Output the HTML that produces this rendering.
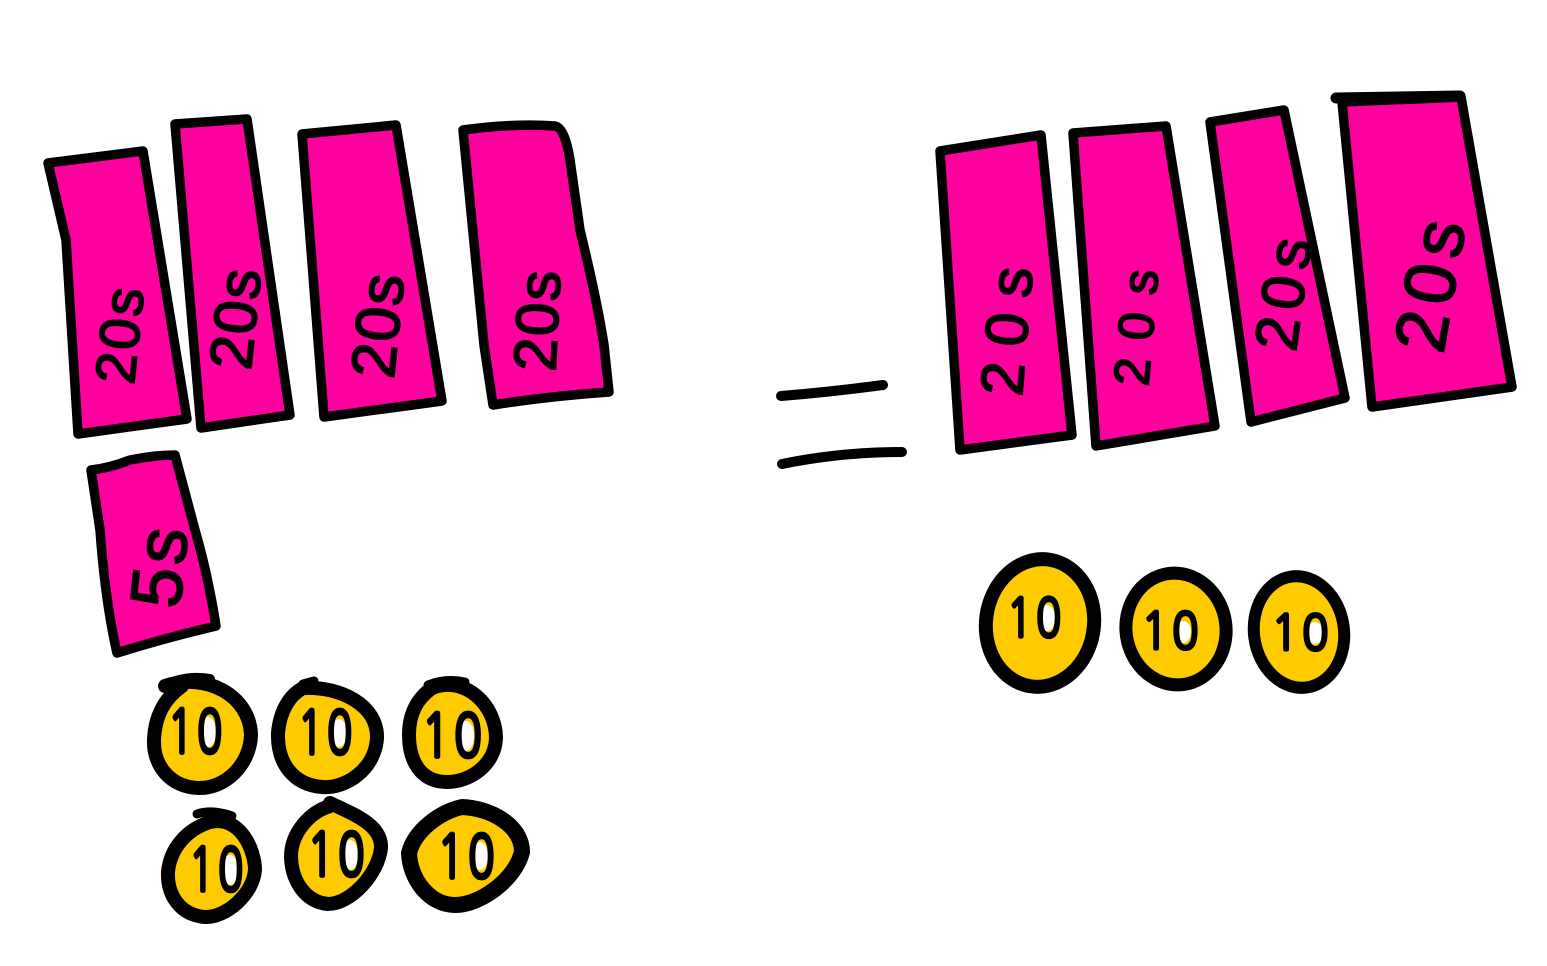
<!DOCTYPE html>
<html><head><meta charset="utf-8"><style>
html,body{margin:0;padding:0;background:#fff;width:1547px;height:966px;overflow:hidden}
svg{display:block}
.b{fill:#ff009f;stroke:#000;stroke-width:9.5;stroke-linejoin:round;stroke-linecap:round}
.c{fill:#fdcb00;stroke:#000;stroke-linejoin:round;stroke-width:14}
.l{fill:none;stroke:#000;stroke-linecap:round}
.t{font-family:"Liberation Sans",sans-serif;fill:#000;stroke:#000;stroke-width:1.8;text-anchor:middle}
.n{font-family:"NanumGothic",sans-serif;fill:#000;stroke:#000;stroke-width:2.8;text-anchor:middle;font-size:44px;letter-spacing:4px}
.h{fill:#fff;stroke:none}
</style></head><body>
<svg width="1547" height="966" viewBox="0 0 1547 966" xmlns="http://www.w3.org/2000/svg">
<rect width="1547" height="966" fill="#fff"/>
<polygon class="b" points="48,163 143,151 187,419 78,434 66,240"/>
<polygon class="b" points="175,124 247,119 290,415 201,428"/>
<polygon class="b" points="302,134 396,125 442,401 324,417"/>
<path class="b" d="M463,130 Q515,123 555,126 Q565,128 570,160 L580,230 Q597,300 604,345 L609,392 Q550,396 493,405 L484,345 Z"/>
<path class="b" d="M91,470 Q110,468 130,460 Q155,455 175,455 L195,530 Q208,575 216,626 Q165,638 117,653 Q105,600 100,530 Z"/>
<polygon class="b" points="940,151 1041,135 1072,435 960,450"/>
<polygon class="b" points="1073,133 1166,126 1215,426 1096,446"/>
<polygon class="b" points="1210,122 1284,110 1345,398 1251,422"/>
<polygon class="b" points="1342,102 1461,97 1512,387 1372,407"/>
<path class="l" d="M1336,98 L1460,96" stroke-width="11"/>
<path class="l" d="M781,396 Q830,392 883,385 M782,464 Q840,452 902,452" stroke-width="10"/>

<text class="t" font-size="56" letter-spacing="3" transform="translate(139,336) rotate(-84)">20s</text>
<text class="t" font-size="60" letter-spacing="2" transform="translate(256,320) rotate(-84)">20s</text>
<text class="t" font-size="62" letter-spacing="2" transform="translate(399,327) rotate(-84)">20s</text>
<text class="t" font-size="60" letter-spacing="2" transform="translate(558,321) rotate(-87)">20s</text>
<text class="t" font-size="72" letter-spacing="4" transform="translate(184,568) rotate(-84)">5s</text>
<text class="t" font-size="60" letter-spacing="16" transform="translate(1028,325) rotate(-85)">20s</text>
<text class="t" font-size="50" letter-spacing="18" transform="translate(1154,320) rotate(-85)">20s</text>
<text class="t" font-size="60" letter-spacing="8" transform="translate(1304,293) rotate(-82)">20s</text>
<text class="t" font-size="72" letter-spacing="8" transform="translate(1455,286) rotate(-80)">20s</text>

<path class="c" d="M165,686 C205,672 250,695 251,735 C250,765 225,789 198,788 C170,787 153,765 154,740 C155,715 165,698 182,686Z"/>
<path class="l" d="M164,686 Q185,675 210,679" stroke-width="10"/>
<path class="c" d="M303,688 C340,686 378,705 377,738 C375,770 345,789 322,787 C295,785 277,765 278,733 C280,710 290,695 303,688Z"/>
<path class="l" d="M303,684 L314,681" stroke-width="9"/>
<path class="c" d="M432,688 C465,675 496,705 496,738 C495,765 470,782 447,782 C420,782 409,760 409,735 C409,712 418,698 432,688Z"/>
<path class="l" d="M428,685 Q445,678 465,682" stroke-width="9"/>
<path class="c" d="M210,822 C240,815 255,850 255,870 C253,895 225,918 205,917 C180,915 167,895 168,872 C170,850 185,830 210,822Z"/>
<path class="l" d="M197,814 Q212,809 232,816" stroke-width="9"/>
<path class="c" d="M330,803 C355,815 382,825 381,848 C378,875 350,904 328,904 C305,902 291,880 291,855 C292,832 310,812 330,806Z"/>
<path class="c" style="stroke-width:16" d="M462,807 C490,808 522,825 522,852 C515,880 480,905 455,905 C430,905 410,880 409,853 C415,830 440,812 462,807Z"/>
<ellipse class="c" style="stroke-width:14" cx="1040" cy="623" rx="54" ry="64" transform="rotate(8 1040 623)"/>
<ellipse class="c" style="stroke-width:13" cx="1176" cy="629" rx="50" ry="56" transform="rotate(-8 1176 629)"/>
<ellipse class="c" style="stroke-width:12" cx="1299" cy="632" rx="45" ry="56" transform="rotate(-8 1299 632)"/>

<ellipse class="h" cx="208" cy="732" rx="8" ry="15"/>
<text class="n" transform="translate(197,753) scale(.95,1.35)">10</text>
<ellipse class="h" cx="339" cy="733" rx="8" ry="14"/>
<text class="n" transform="translate(327,754) scale(.95,1.35)">10</text>
<ellipse class="h" cx="466" cy="736" rx="8" ry="15"/>
<text class="n" transform="translate(454,757) scale(1.05,1.35)">10</text>
<ellipse class="h" cx="230" cy="870" rx="8" ry="15"/>
<text class="n" transform="translate(218,891) scale(.95,1.35)">10</text>
<ellipse class="h" cx="350" cy="855" rx="8" ry="15"/>
<text class="n" transform="translate(338,876) scale(1,1.35)">10</text>
<ellipse class="h" cx="480" cy="856" rx="8" ry="14"/>
<text class="n" transform="translate(468,878) scale(1,1.35)">10</text>
<ellipse class="h" cx="1047" cy="618" rx="8" ry="13"/>
<text class="n" transform="translate(1036,637) scale(.95,1.2)">10</text>
<ellipse class="h" cx="1183" cy="632" rx="8" ry="11"/>
<text class="n" transform="translate(1172,649) scale(1,1.15)">10</text>
<ellipse class="h" cx="1315" cy="633" rx="8" ry="11"/>
<text class="n" transform="translate(1302,650) scale(1,1.1)">10</text>
</svg>
</body></html>
